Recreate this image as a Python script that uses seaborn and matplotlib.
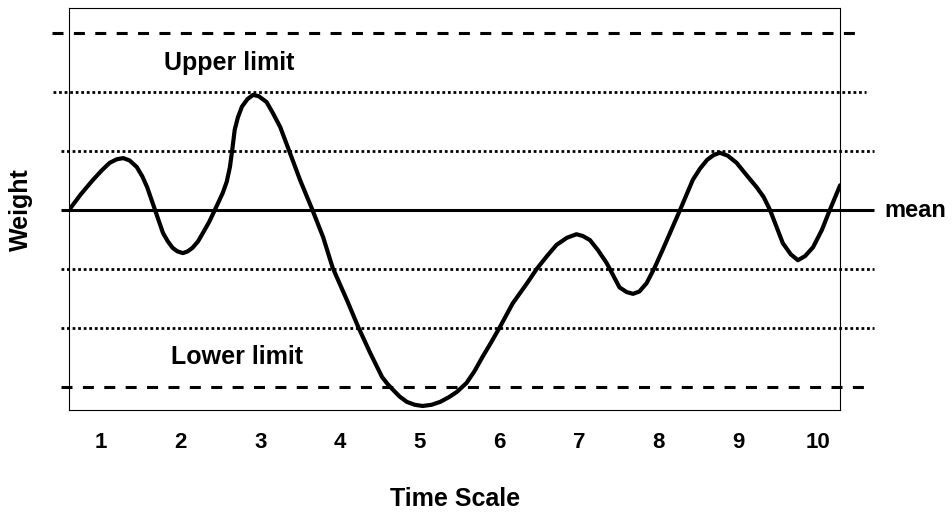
import numpy as np
import pandas as pd
import matplotlib
matplotlib.use("Agg")
import matplotlib.pyplot as plt
import seaborn as sns

# curve (time units, weight in std-dev units)
time = [0.60, 0.75, 0.90, 1.01, 1.11, 1.20, 1.28, 1.36, 1.45, 1.52, 1.58, 1.68,
        1.78, 1.84, 1.90, 1.96, 2.03, 2.09, 2.15, 2.22, 2.28, 2.36, 2.43, 2.53,
        2.58, 2.62, 2.65, 2.68, 2.72, 2.77, 2.84, 2.91, 2.98, 3.08, 3.16, 3.25,
        3.37, 3.50, 3.65, 3.79, 3.91, 4.09, 4.23, 4.38, 4.53, 4.60, 4.67, 4.75,
        4.84, 4.94, 5.04, 5.15, 5.26, 5.37, 5.47, 5.59, 5.69, 5.79, 5.90, 6.01,
        6.17, 6.35, 6.47, 6.60, 6.72, 6.85, 6.97, 7.05, 7.14, 7.24, 7.35, 7.51,
        7.60, 7.68, 7.76, 7.85, 7.95, 8.05, 8.27, 8.43, 8.52, 8.61, 8.69, 8.77,
        8.87, 8.98, 9.10, 9.23, 9.32, 9.40, 9.56, 9.66, 9.75, 9.84, 9.94, 10.05,
        10.15, 10.28]
weight = [0.00, 0.27, 0.51, 0.67, 0.80, 0.86, 0.88, 0.84, 0.73, 0.57, 0.39, 0.00,
          -0.39, -0.53, -0.64, -0.70, -0.73, -0.70, -0.64, -0.53, -0.39, -0.20, 0.00, 0.29,
          0.48, 0.73, 1.03, 1.36, 1.57, 1.75, 1.88, 1.95, 1.93, 1.83, 1.64, 1.41,
          0.98, 0.51, 0.02, -0.46, -0.98, -1.53, -1.98, -2.42, -2.83, -2.95, -3.05, -3.16,
          -3.25, -3.30, -3.32, -3.30, -3.25, -3.17, -3.08, -2.93, -2.73, -2.49, -2.24, -1.98,
          -1.58, -1.24, -1.00, -0.78, -0.59, -0.47, -0.41, -0.44, -0.51, -0.68, -0.90, -1.31,
          -1.39, -1.42, -1.38, -1.24, -0.98, -0.68, 0.00, 0.51, 0.70, 0.85, 0.93, 0.97,
          0.92, 0.80, 0.60, 0.39, 0.22, 0.00, -0.56, -0.75, -0.85, -0.78, -0.63, -0.34,
          0.00, 0.42]

mean_level = 0
limit_levels = [3, -3]
dotted_levels = [2, 1, -1, -2]
ticks = list(range(1, 11))

df = pd.DataFrame({"Time": time, "Weight": weight})

sns.set_style("white")
plt.rcParams["font.family"] = ["Liberation Sans", "DejaVu Sans"]
plt.rcParams["font.weight"] = "bold"
plt.rcParams["text.color"] = "black"
plt.rcParams["axes.labelcolor"] = "black"
plt.rcParams["xtick.color"] = "black"

fig = plt.figure(figsize=(9.52, 5.12), dpi=100)
ax = fig.add_axes([0.0725, 0.199, 0.81, 0.785])

sns.lineplot(data=df, x="Time", y="Weight", color="black", lw=3,
             estimator=None, sort=False, ax=ax,
             solid_joinstyle="round", solid_capstyle="round")

# reference lines reach past the frame
ax.hlines(limit_levels[0], 0.385, 10.49, color="black", lw=2.2,
          linestyles=(0, (3.6, 3.4)), clip_on=False)
ax.hlines(limit_levels[1], 0.50, 10.60, color="black", lw=2.2,
          linestyles=(0, (3.6, 3.4)), clip_on=False)
ax.hlines(dotted_levels[0], 0.40, 10.60, color="black", lw=2.0,
          linestyles=(0, (1, 1)), clip_on=False)
ax.hlines(dotted_levels[1:], 0.50, 10.70, color="black", lw=2.0,
          linestyles=(0, (1, 1)), clip_on=False)
ax.hlines(mean_level, 0.50, 10.70, color="black", lw=2.2, clip_on=False)

ax.text(2.61, 2.49, "Upper limit", ha="center", va="center", fontsize=18, fontweight="bold")
ax.text(2.71, -2.49, "Lower limit", ha="center", va="center", fontsize=18, fontweight="bold")
ax.text(10.84, mean_level, "mean", ha="left", va="center", fontsize=17,
        fontweight="bold", clip_on=False)

ax.set_xlim(0.6, 10.28)
ax.set_ylim(-3.39, 3.42)
ax.set_xticks(ticks)
ax.set_xticklabels([str(t) for t in ticks], fontsize=16, fontweight="bold")
ax.set_yticks([])
ax.tick_params(axis="x", length=0, pad=16)
ax.set_xlabel("Time Scale", fontsize=18, fontweight="bold", labelpad=24)
ax.set_ylabel("Weight", fontsize=18, fontweight="bold", labelpad=26)

for s in ax.spines.values():
    s.set_color("black")
    s.set_linewidth(0.8)

fig.savefig("out.png", dpi=100)
